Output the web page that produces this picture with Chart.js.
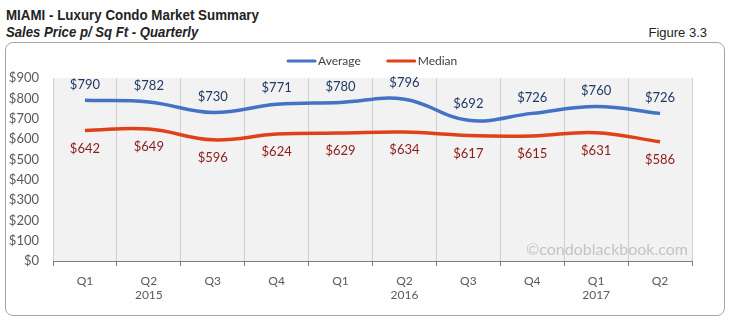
<!DOCTYPE html>
<html>
<head>
<meta charset="utf-8">
<script src="https://cdn.jsdelivr.net/npm/chart.js@4/dist/chart.umd.min.js"></script>
<style>
  body { margin: 0; width: 733px; height: 324px; background: #fff; position: relative; overflow: hidden; font-family: 'Liberation Sans Narrow', 'Liberation Sans', Arial, sans-serif; }
  .title { position: absolute; left: 6px; top: 6px; font-size: 15px; font-weight: bold; color: #222; transform: scaleX(0.89); transform-origin: left top; white-space: nowrap; }
  .subtitle { position: absolute; left: 6px; top: 24px; font-size: 14px; font-style: italic; font-weight: bold; color: #222; transform: scaleX(0.94); transform-origin: left top; white-space: nowrap; }
  .fig { position: absolute; right: 26px; top: 25px; font-size: 13px; color: #222; }
  .box { position: absolute; left: 5px; top: 42px; width: 720px; height: 274px; border: 1px solid #a6a6a6; border-radius: 8px; box-sizing: border-box; }
  #chartWrap { position: absolute; left: 6px; top: 43px; width: 718px; height: 272px; }
</style>
</head>
<body>
<div class="title">MIAMI - Luxury Condo Market Summary</div>
<div class="subtitle">Sales Price p/ Sq Ft - Quarterly</div>
<div class="fig">Figure 3.3</div>
<div class="box"></div>
<div id="chartWrap"><canvas id="chart"></canvas></div>
<script>
const quarters = ['Q1', 'Q2', 'Q3', 'Q4', 'Q1', 'Q2', 'Q3', 'Q4', 'Q1', 'Q2'];
const years = ['', '2015', '', '', '', '2016', '', '', '2017', ''];
const average = [790, 782, 730, 771, 780, 796, 692, 726, 760, 726];
const median = [642, 649, 596, 624, 629, 634, 617, 615, 631, 586];

const labelFont = '13px Lato, "Open Sans", sans-serif';

// grey plot background
const plotBg = {
    id: 'plotBg',
    beforeDraw(chart) {
        const a = chart.chartArea;
        const ctx = chart.ctx;
        ctx.save();
        ctx.fillStyle = '#f2f2f2';
        ctx.fillRect(a.left, a.top, a.right - a.left, a.bottom - a.top);
        ctx.restore();
    }
};

// value labels, watermark, legend
const extras = {
    id: 'extras',
    afterDatasetsDraw(chart) {
        const ctx = chart.ctx;
        const a = chart.chartArea;
        ctx.save();
        ctx.font = '16px Lato, "Open Sans", sans-serif';
        ctx.fillStyle = '#c4c4c4';
        ctx.textAlign = 'right';
        ctx.textBaseline = 'bottom';
        ctx.fillText('\u00a9condoblackbook.com', a.right - 4, a.bottom - 3);

        ctx.font = labelFont;
        ctx.textAlign = 'center';
        ctx.textBaseline = 'middle';
        chart.data.datasets.forEach((ds, i) => {
            const meta = chart.getDatasetMeta(i);
            ctx.fillStyle = ds.labelColor;
            meta.data.forEach((pt, j) => {
                const dy = ds.labelAbove ? -16 : 18;
                ctx.fillText('$' + ds.data[j], pt.x, pt.y + dy);
            });
        });

        // legend
        const items = chart.data.datasets.map(ds => ({ text: ds.label, color: ds.borderColor }));
        let x = 282;
        const y = 18;
        ctx.font = '12px Lato, "Open Sans", sans-serif';
        ctx.textAlign = 'left';
        items.forEach(it => {
            ctx.strokeStyle = it.color;
            ctx.lineWidth = 3;
            ctx.lineCap = 'round';
            ctx.beginPath();
            ctx.moveTo(x, y);
            ctx.lineTo(x + 27, y);
            ctx.stroke();
            ctx.fillStyle = '#404040';
            ctx.fillText(it.text, x + 30, y);
            x += 30 + ctx.measureText(it.text).width + 27;
        });
        ctx.restore();
    }
};

new Chart(document.getElementById('chart'), {
    type: 'line',
    data: {
        labels: quarters.map((q, i) => [q, years[i]]),
        datasets: [
            {
                label: 'Average',
                data: average,
                borderColor: '#4472c4',
                borderWidth: 3.5,
                tension: 0.4,
                pointRadius: 0,
                labelColor: '#1f3864',
                labelAbove: true
            },
            {
                label: 'Median',
                data: median,
                borderColor: '#e0401a',
                borderWidth: 3.5,
                tension: 0.4,
                pointRadius: 0,
                labelColor: '#8b1a1a',
                labelAbove: false
            }
        ]
    },
    options: {
        responsive: true,
        maintainAspectRatio: false,
        animation: false,
        layout: { padding: { top: 35, right: 32, left: 0, bottom: 0 } },
        plugins: {
            legend: { display: false },
            tooltip: { enabled: false }
        },
        scales: {
            x: {
                offset: true,
                grid: {
                    offset: true,
                    color: '#d0d0d0',
                    tickColor: '#7f7f7f',
                    tickLength: 5
                },
                border: { color: '#7f7f7f', width: 1 },
                ticks: {
                    color: '#595959',
                    font: { family: 'Lato, "Open Sans", sans-serif', size: 12 },
                    maxRotation: 0,
                    autoSkip: false,
                    padding: 8
                },
                afterFit(scale) { scale.height = 54; }
            },
            y: {
                min: 0,
                max: 900,
                grid: { display: false },
                border: { display: false },
                ticks: {
                    stepSize: 100,
                    color: '#595959',
                    font: { family: 'Lato, "Open Sans", sans-serif', size: 13 },
                    padding: 6,
                    callback: v => '$' + v
                },
                afterFit(scale) { scale.width = 47; }
            }
        }
    },
    plugins: [plotBg, extras]
});
</script>
</body>
</html>
